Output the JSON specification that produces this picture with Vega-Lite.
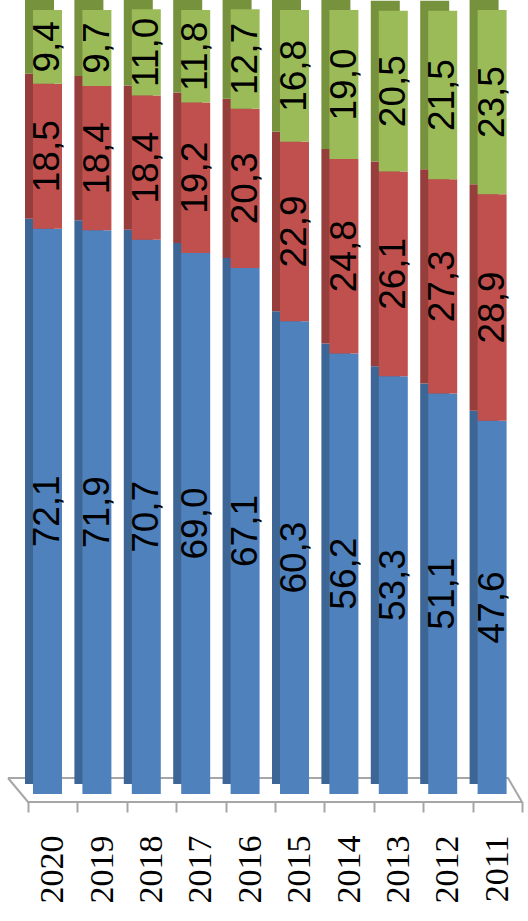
{
  "$schema": "https://vega.github.io/schema/vega-lite/v6.json",
  "width": 494,
  "height": 784,
  "autosize": {"type": "none"},
  "padding": {"left": 28, "top": 10, "right": 6, "bottom": 127},
  "background": "white",
  "config": {"view": {"stroke": null}},
  "datasets": {
    "bars": [
      {"year": "2020", "s": "a", "v": 72.1, "lab": "72,1"},
      {"year": "2020", "s": "b", "v": 18.5, "lab": "18,5"},
      {"year": "2020", "s": "c", "v": 9.4, "lab": "9,4"},
      {"year": "2019", "s": "a", "v": 71.9, "lab": "71,9"},
      {"year": "2019", "s": "b", "v": 18.4, "lab": "18,4"},
      {"year": "2019", "s": "c", "v": 9.7, "lab": "9,7"},
      {"year": "2018", "s": "a", "v": 70.7, "lab": "70,7"},
      {"year": "2018", "s": "b", "v": 18.4, "lab": "18,4"},
      {"year": "2018", "s": "c", "v": 11.0, "lab": "11,0"},
      {"year": "2017", "s": "a", "v": 69.0, "lab": "69,0"},
      {"year": "2017", "s": "b", "v": 19.2, "lab": "19,2"},
      {"year": "2017", "s": "c", "v": 11.8, "lab": "11,8"},
      {"year": "2016", "s": "a", "v": 67.1, "lab": "67,1"},
      {"year": "2016", "s": "b", "v": 20.3, "lab": "20,3"},
      {"year": "2016", "s": "c", "v": 12.7, "lab": "12,7"},
      {"year": "2015", "s": "a", "v": 60.3, "lab": "60,3"},
      {"year": "2015", "s": "b", "v": 22.9, "lab": "22,9"},
      {"year": "2015", "s": "c", "v": 16.8, "lab": "16,8"},
      {"year": "2014", "s": "a", "v": 56.2, "lab": "56,2"},
      {"year": "2014", "s": "b", "v": 24.8, "lab": "24,8"},
      {"year": "2014", "s": "c", "v": 19.0, "lab": "19,0"},
      {"year": "2013", "s": "a", "v": 53.3, "lab": "53,3"},
      {"year": "2013", "s": "b", "v": 26.1, "lab": "26,1"},
      {"year": "2013", "s": "c", "v": 20.5, "lab": "20,5"},
      {"year": "2012", "s": "a", "v": 51.1, "lab": "51,1"},
      {"year": "2012", "s": "b", "v": 27.3, "lab": "27,3"},
      {"year": "2012", "s": "c", "v": 21.5, "lab": "21,5"},
      {"year": "2011", "s": "a", "v": 47.6, "lab": "47,6"},
      {"year": "2011", "s": "b", "v": 28.9, "lab": "28,9"},
      {"year": "2011", "s": "c", "v": 23.5, "lab": "23,5"}
    ],
    "floor": [
      {"fx": -0.0405, "fy": 2.04, "k": 0},
      {"fx": 0, "fy": -1.02, "k": 1},
      {"fx": 1, "fy": -1.02, "k": 2},
      {"fx": 0.9717, "fy": 2.04, "k": 3},
      {"fx": -0.0405, "fy": 2.04, "k": 4}
    ]
  },
  "layer": [
    {
      "data": {"name": "floor"},
      "mark": {"type": "line", "color": "#A6A6A6", "strokeWidth": 2},
      "encoding": {
        "x": {"field": "fx", "type": "quantitative", "scale": {"domain": [0, 1], "nice": false, "zero": false}, "axis": null},
        "y": {"field": "fy", "type": "quantitative", "scale": {"domain": [0, 100], "nice": false}, "axis": null},
        "order": {"field": "k"}
      }
    },
    {
      "data": {"name": "bars"},
      "mark": {"type": "bar", "width": 29, "xOffset": -13.2, "yOffset": -10},
      "encoding": {
        "x": {"field": "year", "type": "nominal", "sort": null, "scale": {"paddingInner": 0, "paddingOuter": 0},
          "axis": {"title": null, "domain": false, "ticks": true, "tickBand": "extent", "tickColor": "#A6A6A6", "tickSize": 10, "tickWidth": 2, "offset": 8, "labelAngle": 270, "labelAlign": "right", "labelBaseline": "middle", "labelFont": "Liberation Serif", "labelFontSize": 34, "labelColor": "black", "labelPadding": 23, "labelOverlap": false}},
        "y": {"field": "v", "type": "quantitative", "stack": "zero", "scale": {"domain": [0, 100], "nice": false}, "axis": null},
        "color": {"field": "s", "type": "nominal", "scale": {"domain": ["a", "b", "c"], "range": ["#3D6596", "#963E3C", "#76923C"]}, "legend": null},
        "order": {"field": "s"}
      }
    },
    {
      "data": {"name": "bars"},
      "mark": {"type": "bar", "width": 29, "xOffset": -5.2},
      "encoding": {
        "x": {"field": "year", "type": "nominal", "sort": null, "scale": {"paddingInner": 0, "paddingOuter": 0}, "axis": null},
        "y": {"field": "v", "type": "quantitative", "stack": "zero", "scale": {"domain": [0, 100], "nice": false}, "axis": null},
        "color": {"field": "s", "type": "nominal", "scale": {"domain": ["a", "b", "c"], "range": ["#4F81BD", "#C0504D", "#9BBB59"]}, "legend": null},
        "order": {"field": "s"}
      }
    },
    {
      "data": {"name": "bars"},
      "mark": {"type": "text", "angle": 270, "font": "Liberation Sans", "fontSize": 37, "color": "black", "align": "center", "baseline": "middle", "xOffset": -4.5},
      "encoding": {
        "x": {"field": "year", "type": "nominal", "sort": null, "scale": {"paddingInner": 0, "paddingOuter": 0}, "axis": null},
        "y": {"field": "v", "type": "quantitative", "stack": "zero", "bandPosition": 0.5, "scale": {"domain": [0, 100], "nice": false}, "axis": null},
        "text": {"field": "lab"},
        "order": {"field": "s"}
      }
    }
  ],
  "resolve": {"scale": {"x": "independent", "color": "independent"}}
}
